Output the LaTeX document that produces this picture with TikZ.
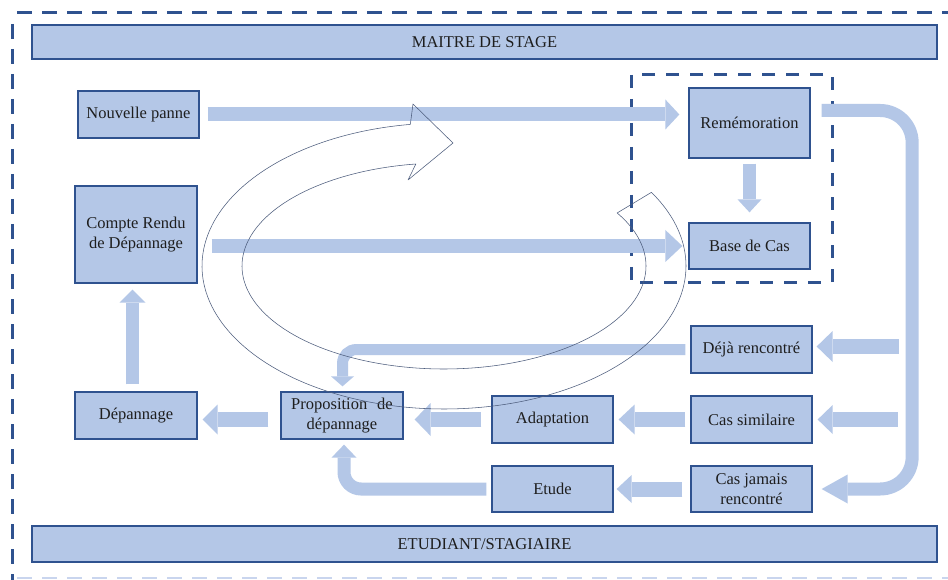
\documentclass[tikz,border=0pt]{standalone}
\usepackage{fontspec}
\setmainfont{Liberation Serif}
\usetikzlibrary{arrows.meta}
\definecolor{boxfill}{HTML}{B4C7E7}
\definecolor{boxline}{HTML}{2F528F}
\definecolor{dashcol}{HTML}{2F528F}
\definecolor{faintdash}{HTML}{C9D5EE}
\definecolor{txt}{HTML}{1E1E1E}
\definecolor{loopcol}{HTML}{4D5D7D}
\tikzset{
  box/.style={draw=boxline, fill=boxfill, line width=1.3pt, inner sep=0pt, align=center,
    text=txt, font=\fontsize{16.5pt}{20pt}\selectfont, minimum width=121pt, minimum height=47pt},
  bar/.style={box, minimum width=905pt},
  blk/.style n args={3}{draw=boxfill, line width=#1, line cap=butt,
    -{Triangle[width=#2, length=#3, line width=0pt]}},
  loopline/.style={draw=loopcol, line width=0.55pt, line join=round},
  outerdash/.style={draw=dashcol, line width=3pt, dash pattern=on 15pt off 10pt},
  innerdash/.style={draw=dashcol, line width=3pt, dash pattern=on 13pt off 11pt}
}
\begin{document}
\begin{tikzpicture}[x=1pt,y=-1pt]
\useasboundingbox (0,0) rectangle (948,580);
\clip (0,0) rectangle (948,580);
\fill[white] (0,0) rectangle (948,580);
% outer dashed frame (only top, left and a faint bottom are visible)
\draw[outerdash] (17,13) -- (960,13);
\draw[outerdash, dash phase=-2pt] (12,22) -- (12,590);
\draw[draw=faintdash, line width=2.5pt, dash pattern=on 15pt off 10pt] (17,578) -- (960,578);
% bars
\node[bar, minimum height=34pt] (maitre) at (484.5,42) {MAITRE DE STAGE};
\node[bar, minimum height=36pt] (etud) at (484.5,544) {ETUDIANT/STAGIAIRE};
% inner dashed box
\draw[innerdash] (631,75) rectangle (832,282);
% boxes
\node[box] (nouv) at (138.5,114.5) {Nouvelle panne};
\node[box, minimum width=122pt, minimum height=97pt] (compte) at (136,234.5) {Compte Rendu\\de Dépannage};
\node[box, minimum width=122pt] (dep) at (136,415.5) {Dépannage};
\node[box, minimum width=122pt] (prop) at (342,415.5) {Proposition\hspace{0.6em}de\\dépannage};
\node[box] (adapt) at (552.5,419.5) {Adaptation};
\node[box, minimum height=46pt] (etude) at (552.5,489) {Etude};
\node[box] (deja) at (751.5,349.5) {Déjà rencontré};
\node[box] (sim) at (751.5,419.5) {Cas similaire};
\node[box, minimum height=46pt] (jam) at (751.5,489) {Cas jamais\\rencontré};
\node[box, minimum height=70pt] (rem) at (749.5,123) {Remémoration};
\node[box, minimum height=46pt] (base) at (749.5,246) {Base de Cas};
% straight block arrows
\draw[blk={14pt}{30pt}{14pt}] ([xshift=8pt]nouv.east) -- ([xshift=-9pt]nouv.east -| rem.west);
\draw[blk={14pt}{32pt}{17pt}] ([xshift=14pt]base.west -| compte.east) -- ([xshift=-6pt]base.west);
\draw[blk={13pt}{24pt}{13pt}] ([yshift=-5pt]rem.south) -- ([yshift=10pt]base.north);
\draw[blk={13pt}{26pt}{13pt}] ([xshift=-3.5pt,yshift=7pt]dep.north) -- ([xshift=-3.5pt,yshift=-6pt]compte.south);
\draw[blk={15pt}{30pt}{15pt}] ([xshift=-12pt,yshift=-4pt]prop.west) -- ([xshift=5pt,yshift=-4pt]dep.east);
\draw[blk={15pt}{33pt}{16pt}] ([xshift=-10pt]adapt.west) -- ([xshift=11pt]adapt.west -| prop.east);
\draw[blk={15pt}{30pt}{16pt}] ([xshift=-5pt]sim.west) -- ([xshift=5pt]adapt.east);
\draw[blk={15pt}{28pt}{15pt}] ([xshift=-8pt]jam.west) -- ([xshift=3pt]etude.east);
\draw[blk={15pt}{31pt}{16pt}] ([xshift=86pt,yshift=3pt]deja.east) -- ([xshift=4pt,yshift=3pt]deja.east);
\draw[blk={15pt}{29pt}{15pt}] ([xshift=85pt]sim.east) -- ([xshift=5pt]sim.east);
% bent block arrows
\draw[blk={13pt}{29pt}{26pt}, rounded corners=32pt]
  ([xshift=11pt,yshift=12.5pt]rem.east) -| ([xshift=99.5pt]jam.east) -- ([xshift=9pt]jam.east);
\draw[blk={11pt}{23pt}{10pt}, rounded corners=14pt]
  ([xshift=-5pt]deja.west) -| ([xshift=0.5pt,yshift=5pt]prop.north);
\draw[blk={13pt}{25pt}{13pt}, rounded corners=17pt]
  ([xshift=-5pt]etude.west) -| ([xshift=2pt,yshift=-5pt]prop.south);
% circular outlined arrow
\draw[loopline] plot[domain=0:293, samples=200] ({444+242*cos(31-\x)},{266-143*sin(31-\x)})
  -- (413,104) -- (453,143) -- (408,180)
  -- plot[domain=0:293, samples=200] ({444+202*cos(-262+\x)},{266-103*sin(-262+\x)}) -- cycle;
\end{tikzpicture}
\end{document}
